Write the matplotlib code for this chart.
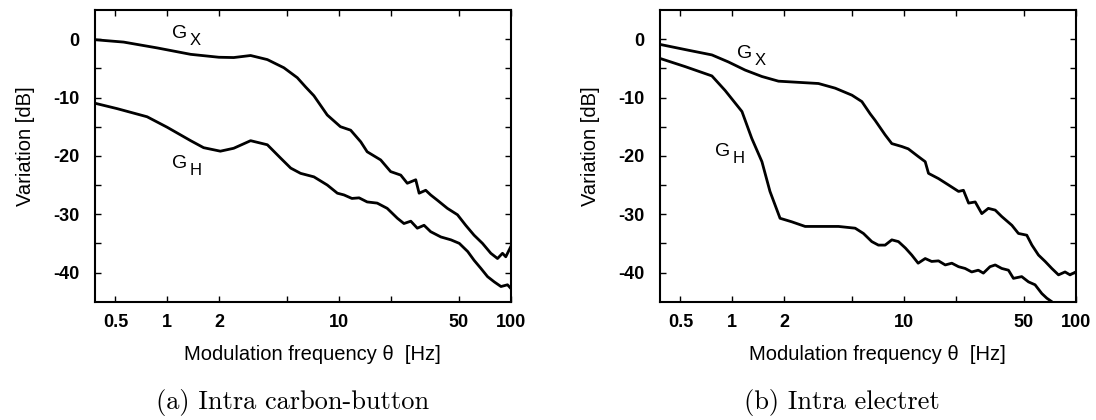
import matplotlib
matplotlib.use("Agg")
import matplotlib.pyplot as plt
from matplotlib.ticker import FixedLocator, FixedFormatter, NullFormatter

plt.rcParams['axes.unicode_minus'] = False
plt.rcParams['font.family'] = ['Liberation Sans', 'DejaVu Sans']

# ---------------- data ----------------
# (a) Intra carbon-button
freq_a_gx = [0.382, 0.558, 0.875, 1.37, 2.0, 2.44, 3.06, 3.83, 4.78, 5.72, 6.4, 7.15, 8.55,
             10.2, 11.7, 13.4, 14.6, 17.5, 20.0, 22.9, 25.0, 28.0, 29.3, 32.0, 34.2, 37.4,
             42.8, 49.0, 54.7, 61.2, 68.5, 76.6, 83.8, 89.6, 93.6, 100.0]
db_a_gx = [-0.1, -0.5, -1.5, -2.6, -3.1, -3.15, -2.8, -3.5, -4.9, -6.6, -8.2, -9.7, -13.0,
           -15.0, -15.6, -17.6, -19.3, -20.7, -22.7, -23.3, -24.7, -24.1, -26.4, -25.9, -26.7, -27.6,
           -29.0, -30.1, -31.9, -33.6, -35.0, -36.7, -37.6, -36.7, -37.3, -35.6]

freq_a_gh = [0.382, 0.51, 0.764, 1.0, 1.37, 1.63, 2.04, 2.44, 3.06, 3.83, 4.58, 5.24, 5.98,
             7.15, 8.55, 9.79, 10.7, 11.9, 13.1, 14.6, 16.7, 19.1, 21.9, 23.9, 26.2, 28.6,
             31.3, 34.2, 39.2, 44.9, 50.2, 56.2, 61.2, 67.1, 73.3, 80.2, 87.8, 95.8, 100.0]
db_a_gh = [-11.0, -11.9, -13.3, -15.1, -17.4, -18.6, -19.2, -18.7, -17.4, -18.1, -20.4, -22.1, -23.0,
           -23.6, -25.0, -26.4, -26.7, -27.3, -27.2, -27.9, -28.1, -29.0, -30.7, -31.6, -31.2, -32.4,
           -31.9, -33.0, -33.9, -34.4, -35.0, -36.4, -37.9, -39.3, -40.7, -41.6, -42.4, -42.1, -42.7]

# (b) Intra electret
freq_b_gx = [0.38, 0.557, 0.762, 0.95, 1.19, 1.49, 1.86, 2.43, 3.18, 3.98, 4.98, 5.69, 6.36,
             6.79, 7.77, 8.5, 9.72, 10.6, 12.1, 13.3, 13.9, 15.9, 18.2, 20.8, 22.2, 23.8, 26.0,
             28.4, 31.0, 34.0, 37.1, 42.5, 46.4, 51.9, 55.6, 60.7, 66.4, 72.6, 79.4, 86.7,
             92.7, 100.0]
db_b_gx = [-0.9, -1.9, -2.7, -3.9, -5.3, -6.4, -7.2, -7.4, -7.6, -8.4, -9.6, -10.7, -12.8,
           -13.9, -16.4, -17.9, -18.4, -18.8, -20.1, -21.0, -23.0, -23.9, -25.0, -26.1, -25.9, -28.1, -27.9,
           -29.9, -29.0, -29.3, -30.4, -31.9, -33.3, -33.6, -35.3, -37.0, -38.1, -39.3, -40.4, -39.9,
           -40.4, -39.9]

freq_b_gh = [0.38, 0.532, 0.762, 0.91, 1.14, 1.30, 1.49, 1.66, 1.90, 2.22, 2.66, 3.33, 4.16,
             5.2, 5.81, 6.5, 7.1, 7.77, 8.5, 9.29, 10.2, 11.1, 12.1, 13.3, 14.5, 15.9, 17.4,
             19.0, 20.8, 22.7, 24.8, 27.1, 29.0, 31.7, 34.0, 37.1, 40.6, 43.4, 48.5, 53.1,
             58.0, 63.5, 67.9, 72.6, 80.0, 100.0]
db_b_gh = [-3.3, -4.7, -6.3, -8.8, -12.4, -17.0, -21.0, -26.1, -30.7, -31.3, -32.1, -32.1, -32.1,
           -32.4, -33.3, -34.7, -35.3, -35.3, -34.4, -34.7, -35.8, -37.0, -38.4, -37.6, -38.1, -38.0, -38.7,
           -38.4, -39.0, -39.3, -39.9, -39.6, -40.1, -39.0, -38.7, -39.3, -39.6, -41.0, -40.7, -41.6,
           -42.1, -43.6, -44.4, -45.0, -46.0, -47.5]

xtick_vals = [0.5, 1, 2, 10, 50, 100]
xtick_labels = ['0.5', '1', '2', '10', '50', '100']
xminor_vals = [5, 20]
ytick_vals = [0, -10, -20, -30, -40]
ytick_labels = ['0', '-10', '-20', '-30', '-40']
yminor_vals = [-5, -15, -25, -35]

captions = ['(a) Intra carbon-button', '(b) Intra electret']
xlabel_text = 'Modulation frequency \u03b8  [Hz]'
ylabel_text = 'Variation [dB]'

panels = [
    dict(gx=(freq_a_gx, db_a_gx), gh=(freq_a_gh, db_a_gh),
         gx_lab=(1.07, 0.9), gh_lab=(1.07, -21.3)),
    dict(gx=(freq_b_gx, db_b_gx), gh=(freq_b_gh, db_b_gh),
         gx_lab=(1.065, -2.4), gh_lab=(0.796, -19.3)),
]

# ---------------- figure ----------------
W, H = 1096, 420
fig = plt.figure(figsize=(W / 100, H / 100), dpi=100)

ax_left_px = [95, 660]
ax_w_px = 415.7
ax_top_px, ax_bot_px = 10, 301.7
caption_x_px = [293, 842]

for i, p in enumerate(panels):
    ax = fig.add_axes([ax_left_px[i] / W, 1 - ax_bot_px / H,
                       ax_w_px / W, (ax_bot_px - ax_top_px) / H])
    ax.set_xscale('log')
    ax.plot(*p['gx'], color='black', lw=2.0, solid_joinstyle='round')
    ax.plot(*p['gh'], color='black', lw=2.0, solid_joinstyle='round')
    ax.set_xlim(0.38, 100)
    ax.set_ylim(-45, 5)

    ax.xaxis.set_major_locator(FixedLocator(xtick_vals))
    ax.xaxis.set_major_formatter(FixedFormatter(xtick_labels))
    ax.xaxis.set_minor_locator(FixedLocator(xminor_vals))
    ax.xaxis.set_minor_formatter(NullFormatter())
    ax.yaxis.set_major_locator(FixedLocator(ytick_vals))
    ax.yaxis.set_major_formatter(FixedFormatter(ytick_labels))
    ax.yaxis.set_minor_locator(FixedLocator(yminor_vals))

    ax.tick_params(which='both', direction='in', top=True, right=True,
                   length=4, width=1.0, labelsize=13)
    ax.tick_params(axis='x', which='major', pad=9)
    ax.tick_params(axis='y', which='major', pad=11)
    for lab in ax.get_xticklabels() + ax.get_yticklabels():
        lab.set_fontweight('bold')
    for s in ax.spines.values():
        s.set_linewidth(1.5)

    ax.set_xlabel(xlabel_text, fontsize=14.5)
    ax.xaxis.set_label_coords(0.524, -(355 - ax_bot_px) / (ax_bot_px - ax_top_px))
    ax.xaxis.label.set_verticalalignment('center')
    ax.set_ylabel(ylabel_text, fontsize=14.5)
    ax.yaxis.set_label_coords(-0.168, 0.534)
    ax.yaxis.label.set_verticalalignment('center')

    for key, sub in (('gx_lab', 'X'), ('gh_lab', 'H')):
        x, y = p[key]
        ax.text(x, y, 'G', fontsize=14, ha='left', va='center')
        ax.annotate(sub, xy=(x, y), xytext=(12.5, -5), textcoords='offset points',
                    fontsize=12, ha='left', va='center')

    fig.text(caption_x_px[i] / W, 1 - 403 / H, captions[i], family='cmr10',
             fontsize=19, ha='center', va='center')

fig.savefig('out.png', dpi=100)
